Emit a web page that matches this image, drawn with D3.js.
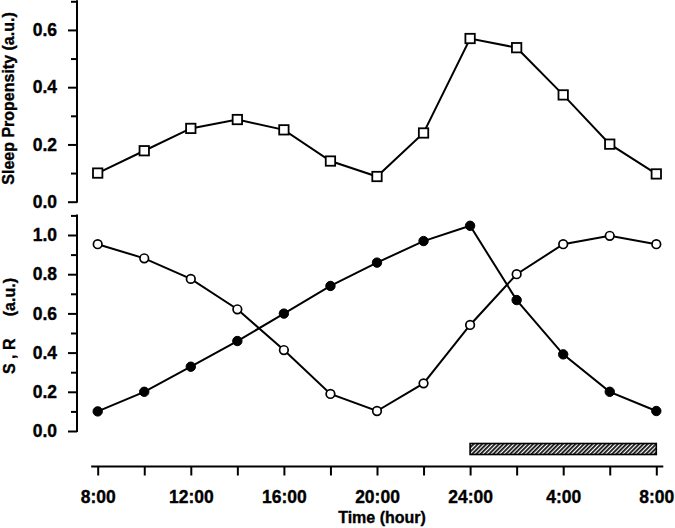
<!DOCTYPE html>
<html><head><meta charset="utf-8">
<script src="https://cdn.jsdelivr.net/npm/d3@7"></script>
<style>
body{margin:0;background:#fff}
svg text{font-family:"Liberation Sans",Arial,Helvetica,sans-serif;font-weight:bold;fill:#000;stroke:#000;stroke-width:0.35px}
</style>
</head><body>
<svg id="chart" width="675" height="528"></svg>
<script>
// ---- data ----
const hours = [0,2,4,6,8,10,12,14,16,18,20,22,24];            // hours after 8:00
const propensity = [0.100,0.178,0.256,0.287,0.251,0.142,0.088,0.240,0.570,0.538,0.373,0.201,0.097];
const sValues = [0.100,0.200,0.328,0.459,0.599,0.740,0.859,0.969,1.047,0.668,0.391,0.200,0.102];
const rValues = [0.953,0.881,0.776,0.621,0.413,0.189,0.102,0.243,0.541,0.800,0.953,0.996,0.953];
const xTickHours = [0,4,8,12,16,20,24];
const xTickLabels = ["8:00","12:00","16:00","20:00","24:00","4:00","8:00"];
const xMinorHours = [0,2,4,6,8,10,12,14,16,18,20,22,24];
const topMajor = [0,0.2,0.4,0.6];
const topMinor = [0.1,0.3,0.5,0.7];
const botMajor = [0,0.2,0.4,0.6,0.8,1.0];
const botMinor = [0.1,0.3,0.5,0.7,0.9,1.1];
const sleepPeriod = [16,24];

// ---- layout ----
const svg = d3.select("#chart");
const axisX = 77;
const x = d3.scaleLinear().domain([0,24]).range([97.7,656.3]);
const yTop = d3.scaleLinear().domain([0,0.7]).range([201.7,1.3]);
const yBot = d3.scaleLinear().domain([0,1.1]).range([431,215.4]);
const xAxisY = 466.5;
const fmt = d3.format(".1f");

function styleAxis(g){
  g.selectAll("path.domain").attr("stroke","#000").attr("stroke-width",2);
  g.selectAll(".tick line").attr("stroke","#000").attr("stroke-width",2);
  g.selectAll(".tick text").style("font-size","17.5px");
}

function leftAxis(scale, major, minor){
  const gMin = svg.append("g").attr("transform",`translate(${axisX},0)`)
    .call(d3.axisLeft(scale).tickValues(minor).tickSize(6).tickSizeOuter(0).tickFormat(""));
  styleAxis(gMin);
  const gMaj = svg.append("g").attr("transform",`translate(${axisX},0)`)
    .call(d3.axisLeft(scale).tickValues(major).tickSize(9).tickSizeOuter(0).tickPadding(11).tickFormat(fmt));
  styleAxis(gMaj);
  gMaj.select("path.domain").remove();
  gMin.select("path.domain").attr("d",`M0,${scale.range()[0]+1}V${scale.range()[1]-1}`);
}
leftAxis(yTop, topMajor, topMinor);
leftAxis(yBot, botMajor, botMinor);

// x axis
const gx = svg.append("g").attr("transform",`translate(0,${xAxisY})`)
  .call(d3.axisBottom(x).tickValues(xMinorHours).tickSize(9).tickSizeOuter(0).tickPadding(15)
    .tickFormat(d => { const i = xTickHours.indexOf(d); return i>=0 ? xTickLabels[i] : ""; }));
styleAxis(gx);
gx.select("path.domain").attr("d",`M${x(-0.28)},0H${x(24.3)}`);

// hatched sleep bar
const defs = svg.append("defs");
const pat = defs.append("pattern").attr("id","hatch").attr("patternUnits","userSpaceOnUse")
  .attr("width",3).attr("height",3).attr("patternTransform","rotate(45)");
pat.append("rect").attr("width",3).attr("height",3).attr("fill","#fff");
pat.append("line").attr("x1",0.9).attr("y1",0).attr("x2",0.9).attr("y2",3)
  .attr("stroke","#111").attr("stroke-width",1.8);
svg.append("rect")
  .attr("x",x(sleepPeriod[0])).attr("y",443.5)
  .attr("width",x(sleepPeriod[1])-x(sleepPeriod[0])).attr("height",11)
  .attr("fill","url(#hatch)").attr("stroke","#000").attr("stroke-width",1.6);

// lines
const lineTop = d3.line().x((d,i)=>x(hours[i])).y(d=>yTop(d));
const lineBot = d3.line().x((d,i)=>x(hours[i])).y(d=>yBot(d));
svg.append("path").datum(propensity).attr("d",lineTop).attr("fill","none").attr("stroke","#000").attr("stroke-width",2);
svg.append("path").datum(sValues).attr("d",lineBot).attr("fill","none").attr("stroke","#000").attr("stroke-width",2);
svg.append("path").datum(rValues).attr("d",lineBot).attr("fill","none").attr("stroke","#000").attr("stroke-width",2);

// markers
const sq = 9.4;
svg.append("g").selectAll("rect").data(propensity).join("rect")
  .attr("x",(d,i)=>x(hours[i])-sq/2).attr("y",d=>yTop(d)-sq/2)
  .attr("width",sq).attr("height",sq)
  .attr("fill","#fff").attr("stroke","#000").attr("stroke-width",1.8);
svg.append("g").selectAll("circle").data(sValues).join("circle")
  .attr("cx",(d,i)=>x(hours[i])).attr("cy",d=>yBot(d)).attr("r",4.7)
  .attr("fill","#000").attr("stroke","#000").attr("stroke-width",1);
svg.append("g").selectAll("circle").data(rValues).join("circle")
  .attr("cx",(d,i)=>x(hours[i])).attr("cy",d=>yBot(d)).attr("r",4.3)
  .attr("fill","#fff").attr("stroke","#000").attr("stroke-width",1.7);

// titles
svg.append("text").attr("transform","translate(14,98.5) rotate(-90)")
  .attr("text-anchor","middle").style("font-size","16px").text("Sleep Propensity (a.u.)");
svg.append("text").attr("transform","translate(14.5,326) rotate(-90)")
  .attr("text-anchor","middle").style("font-size","16px").style("white-space","pre")
  .text("S , R     (a.u.)");
svg.append("text").attr("x",382).attr("y",523)
  .attr("text-anchor","middle").style("font-size","16px").text("Time (hour)");
</script>
</body></html>
